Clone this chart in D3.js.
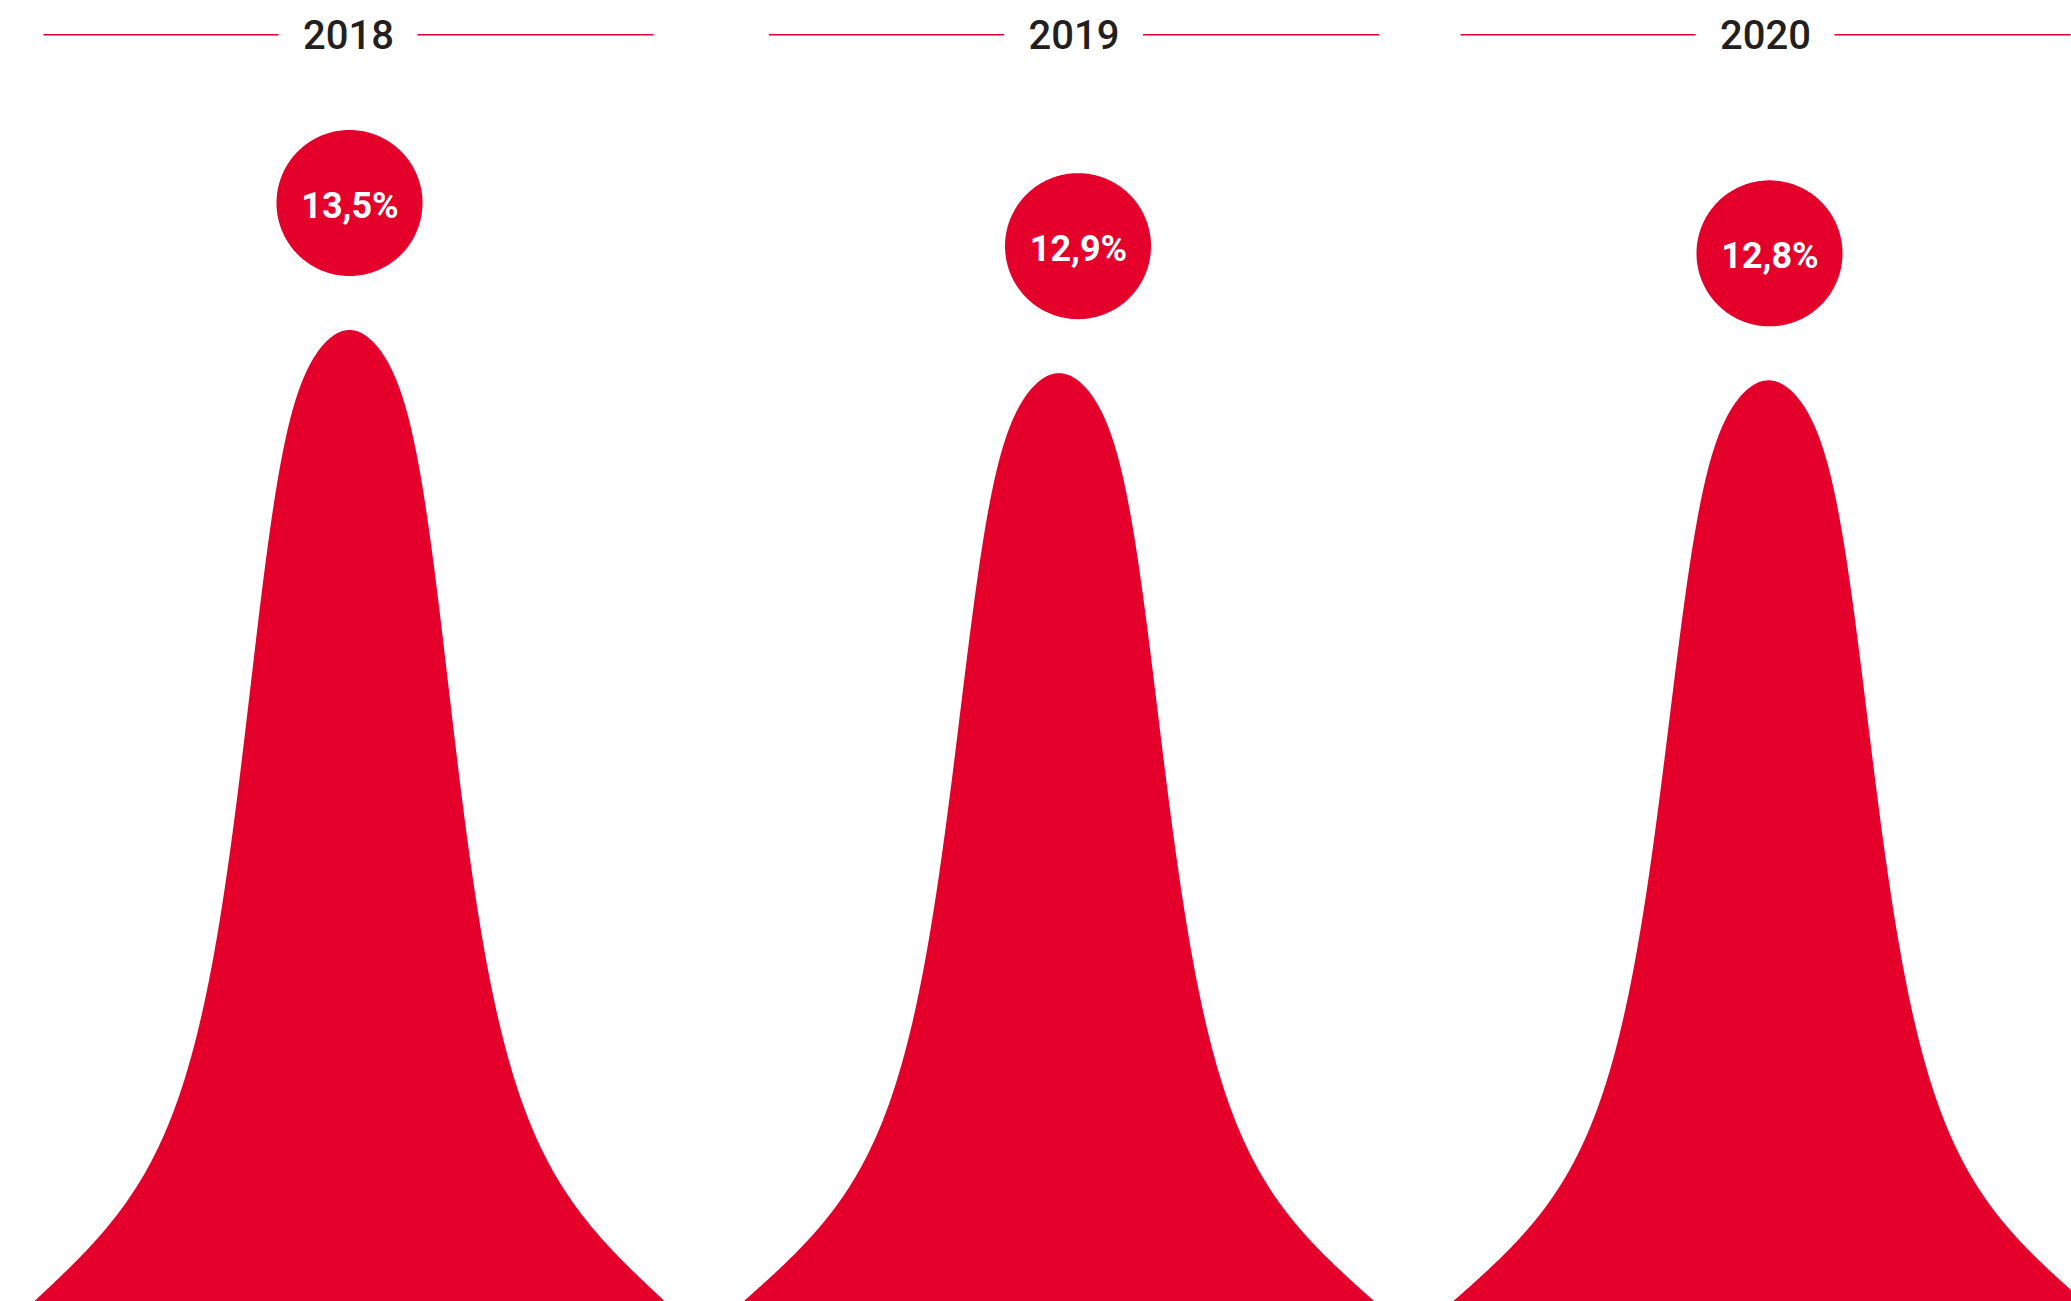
<!DOCTYPE html>
<html>
<head>
<meta charset="utf-8">
<script src="https://cdn.jsdelivr.net/npm/d3@7"></script>
<style>
  html, body { margin: 0; padding: 0; background: #ffffff; }
  svg { display: block; }
</style>
</head>
<body>
<svg id="chart"></svg>
<script>
// ---- data ----
const years  = ["2018", "2019", "2020"];
const values = [13.5, 12.9, 12.8];
const labels = ["13,5%", "12,9%", "12,8%"];

// ---- layout ----
const W = 2071, H = 1301;
const RED = "#e4002b";
const svg = d3.select("#chart").attr("width", W).attr("height", H)
  .attr("shape-rendering", "geometricPrecision");

const x = d3.scalePoint().domain(years).range([349.5, 1768.5]);
const y = d3.scaleLinear().domain([0, d3.max(values)]).range([H, 330]);

// the reference sets the middle column's header and bubble slightly right of its peak
const headShift   = {"2018": -1, "2019": 15, "2020": -3};
const bubbleShift = {"2018": 0,  "2019": 19, "2020": 1};

// bell profile g(d) in [0,1]: round apex, steep flanks, flared foot meeting the base at +-D
const D = 315, A = 2.2e-5, q = 6, r = 2.2, d0 = 120;
const Bq = 0.632 * (1 + Math.pow(112 / d0, q - r)) / Math.pow(112, q);
const raw = d => {
  const a = Math.abs(d);
  const R = A * a * a + Bq * Math.pow(a, q) / (1 + Math.pow(a / d0, q - r));
  return 1 / (1 + R);
};
const gEnd = raw(D);
const shape = d => Math.max(0, raw(d) - gEnd * Math.pow(Math.abs(d) / D, 3));
const offsets = d3.range(-D, D + 0.001, 1);

const area = d3.area()
  .x(p => p.x)
  .y0(y(0))
  .y1(p => y(p.v))
  .curve(d3.curveLinear);

years.forEach((yr, i) => {
  const pts = offsets.map(d => ({x: x(yr) + d, v: values[i] * shape(d)}));
  svg.append("path").attr("d", area(pts)).attr("fill", RED);
});

// headers
const head = svg.append("g");
years.forEach(yr => {
  const c = x(yr) + headShift[yr];
  head.append("line").attr("x1", c - 305).attr("x2", c - 70)
    .attr("y1", 34.7).attr("y2", 34.7).attr("stroke", RED).attr("stroke-width", 1.6);
  head.append("line").attr("x1", c + 69).attr("x2", c + 305)
    .attr("y1", 34.7).attr("y2", 34.7).attr("stroke", RED).attr("stroke-width", 1.6);
  head.append("text").attr("x", c).attr("y", 49.3)
    .attr("text-anchor", "middle")
    .attr("font-family", "Roboto, 'Noto Sans', sans-serif")
    .attr("font-weight", 500).attr("font-size", 40)
    .attr("fill", "#231f20").text(yr);
});

// value bubbles (drawn as fine polygons for a smooth outline)
const R = 73;
const ring = d3.range(0, 361, 1).map(a => [Math.cos(a * Math.PI / 180), Math.sin(a * Math.PI / 180)]);
years.forEach((yr, i) => {
  const cx = x(yr) + bubbleShift[yr];
  const cy = y(values[i]) - 127;
  svg.append("path")
    .attr("d", d3.line()(ring.map(([u, v]) => [cx + R * u, cy + R * v])) + "Z")
    .attr("fill", RED);
  svg.append("text").attr("x", cx + 0.5).attr("y", cy + 14.6)
    .attr("text-anchor", "middle")
    .attr("font-family", "Roboto, 'Noto Sans', sans-serif")
    .attr("font-weight", 700).attr("font-size", 36)
    .attr("fill", "#ffffff").text(labels[i]);
});
</script>
</body>
</html>
